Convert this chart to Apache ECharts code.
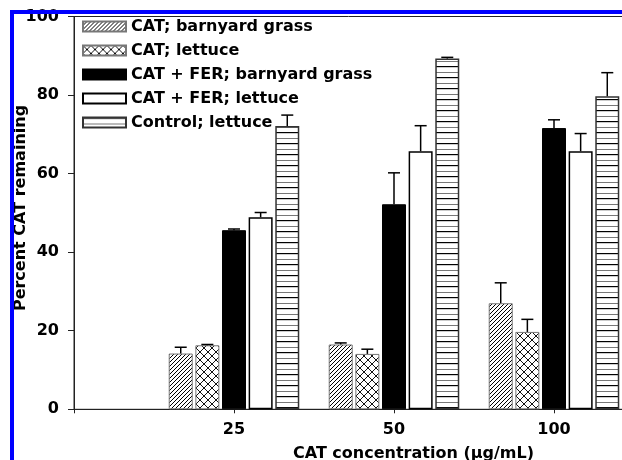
<!DOCTYPE html>
<html>
<head>
<meta charset="utf-8">
<script src="https://cdn.jsdelivr.net/npm/echarts@6/dist/echarts.min.js"></script>
<style>
  html, body { margin: 0; padding: 0; background: #fff; }
  #chart { width: 622px; height: 460px; }
</style>
</head>
<body>
<div id="chart"></div>
<script>
// ---- data ----
const xLabels = ['25', '50', '100'];
const seriesNames = ['CAT; barnyard grass', 'CAT; lettuce', 'CAT + FER; barnyard grass', 'CAT + FER; lettuce', 'Control; lettuce'];
const catBarnyard = [14.2, 16.5, 27.0];
const catBarnyardErr = [1.6, 0.4, 5.2];
const catLettuce = [16.3, 14.1, 19.7];
const catLettuceErr = [0.2, 1.2, 3.2];
const ferBarnyard = [45.6, 52.2, 71.6];
const ferBarnyardErr = [0.3, 8.0, 2.1];
const ferLettuce = [48.9, 65.7, 65.7];
const ferLettuceErr = [1.2, 6.5, 4.5];
const controlLettuce = [72.1, 89.3, 79.7];
const controlLettuceErr = [2.8, 0.3, 6.0];
const yTicks = [0, 20, 40, 60, 80, 100];

const FONT = '"DejaVu Sans", "Liberation Sans", Arial, sans-serif';

// ---- patterns ----
function tile(w, h, draw) {
  const c = document.createElement('canvas');
  c.width = w; c.height = h;
  const ctx = c.getContext('2d');
  ctx.fillStyle = '#fff';
  ctx.fillRect(0, 0, w, h);
  draw(ctx);
  return { image: c, repeat: 'repeat' };
}
const hatch = tile(4, 4, ctx => {
  ctx.strokeStyle = '#000'; ctx.lineWidth = 1;
  ctx.beginPath();
  ctx.moveTo(-1, 5); ctx.lineTo(5, -1);
  ctx.moveTo(-1, 1); ctx.lineTo(1, -1);
  ctx.moveTo(3, 5); ctx.lineTo(5, 3);
  ctx.stroke();
});
const cross = tile(8, 8, ctx => {
  ctx.strokeStyle = '#111'; ctx.lineWidth = 1;
  ctx.beginPath();
  ctx.moveTo(0, 0); ctx.lineTo(8, 8);
  ctx.moveTo(0, 8); ctx.lineTo(8, 0);
  ctx.stroke();
});
const hlines = tile(4, 11, ctx => {
  ctx.fillStyle = '#000'; ctx.fillRect(0, 0, 4, 1.2);
  ctx.fillStyle = '#777'; ctx.fillRect(0, 6, 4, 1);
});

const categories = ['', ...xLabels, ' ', '  '];
const BAR_W = 24;
const BAR_GAP = 0.11;
const STEP = BAR_W * (1 + BAR_GAP);

const values = [catBarnyard, catLettuce, ferBarnyard, ferLettuce, controlLettuce];
const errors = [catBarnyardErr, catLettuceErr, ferBarnyardErr, ferLettuceErr, controlLettuceErr];
const styles = [
  { color: hatch, borderColor: '#777', borderWidth: 1 },
  { color: cross, borderColor: '#777', borderWidth: 1 },
  { color: '#000', borderColor: '#000', borderWidth: 1 },
  { color: '#fff', borderColor: '#000', borderWidth: 1.5 },
  { color: hlines, borderColor: '#333', borderWidth: 1.5 }
];

const series = [];
values.forEach((vals, si) => {
  series.push({
    name: seriesNames[si],
    type: 'bar',
    barWidth: BAR_W,
    barGap: (BAR_GAP * 100) + '%',
    data: [null, ...vals],
    itemStyle: styles[si],
    z: 2
  });
});
values.forEach((vals, si) => {
  series.push({
    type: 'custom',
    z: 5,
    clip: false,
    data: vals.map((v, i) => [i + 1, v, errors[si][i]]),
    renderItem: (params, api) => {
      const idx = api.value(0), v = api.value(1), e = api.value(2);
      const p0 = api.coord([idx, v]);
      const p1 = api.coord([idx, v + e]);
      const cx = p0[0] + (si - 2) * STEP;
      return {
        type: 'group',
        children: [
          { type: 'line', shape: { x1: cx, y1: p0[1], x2: cx, y2: p1[1] }, style: { stroke: '#000', lineWidth: 1.5 } },
          { type: 'line', shape: { x1: cx - 6, y1: p1[1], x2: cx + 6, y2: p1[1] }, style: { stroke: '#000', lineWidth: 1.5 } }
        ]
      };
    }
  });
});

const chart = echarts.init(document.getElementById('chart'), null, { renderer: 'canvas' });
chart.setOption({
  animation: false,
  backgroundColor: '#fff',
  grid: { left: 74, top: 16.5, width: 800, height: 392.8, outerBoundsMode: 'none', containLabel: false, show: true, borderColor: '#222', borderWidth: 1, backgroundColor: 'transparent' },
  legend: {
    data: seriesNames,
    orient: 'vertical',
    left: 77,
    top: 10,
    icon: 'rect',
    itemWidth: 43,
    itemHeight: 10,
    itemGap: 1,
    textStyle: { fontFamily: FONT, fontWeight: 'bold', fontSize: 16, color: '#000', lineHeight: 16, padding: [7, 0, 0, 0] }
  },
  xAxis: {
    type: 'category',
    data: categories,
    boundaryGap: false,
    axisLine: { show: true, lineStyle: { color: '#222', width: 1 } },
    axisTick: { show: true, length: 4, interval: 0, lineStyle: { color: '#222' } },
    axisLabel: { interval: 0, margin: 13, fontFamily: FONT, fontWeight: 'bold', fontSize: 16, color: '#000' },
    splitLine: { show: false }
  },
  yAxis: {
    type: 'value',
    min: yTicks[0],
    max: yTicks[yTicks.length - 1],
    interval: yTicks[1] - yTicks[0],
    axisLine: { show: true, lineStyle: { color: '#222', width: 1 } },
    axisTick: { show: true, length: 6, lineStyle: { color: '#222' } },
    axisLabel: { margin: 15, fontFamily: FONT, fontWeight: 'bold', fontSize: 16, color: '#000' },
    splitLine: { show: false }
  },
  graphic: [
    { type: 'text', x: 21, y: 208, rotation: Math.PI / 2, z: 50,
      style: { text: 'Percent CAT remaining', font: 'bold 16px ' + FONT, fill: '#000', textAlign: 'center', textVerticalAlign: 'middle' } },
    { type: 'text', x: 293, y: 454, z: 50,
      style: { text: 'CAT concentration (μg/mL)', font: 'bold 16px ' + FONT, fill: '#000', textAlign: 'left', textVerticalAlign: 'middle' } },
    { type: 'rect', z: 100, shape: { x: 10, y: 10, width: 4, height: 450 }, style: { fill: '#0000ff' } },
    { type: 'rect', z: 100, shape: { x: 10, y: 10, width: 612, height: 4 }, style: { fill: '#0000ff' } }
  ],
  series: series
});
</script>
</body>
</html>
